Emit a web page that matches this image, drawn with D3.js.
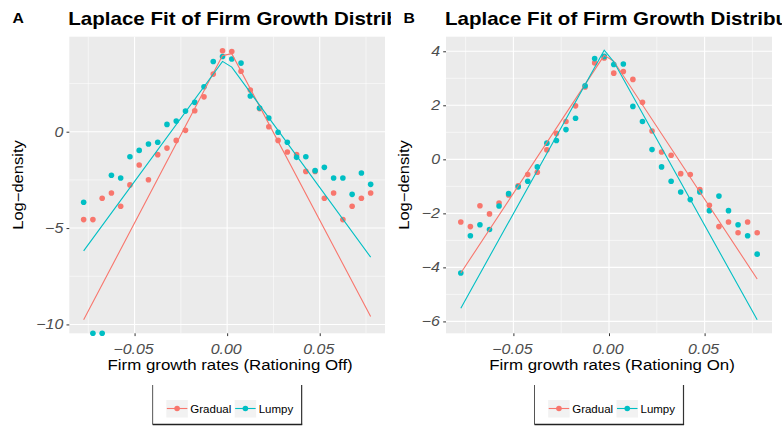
<!DOCTYPE html>
<html><head><meta charset="utf-8">
<script src="https://cdn.jsdelivr.net/npm/d3@7"></script>
<style>html,body{margin:0;padding:0;background:#fff;}svg{display:block;}</style>
</head><body>
<svg id="chart" width="782" height="428"></svg>
<script>
// ---------- data ----------
const binCenters = [-0.0775,-0.0725,-0.0675,-0.0625,-0.0575,-0.0525,-0.0475,-0.0425,-0.0375,-0.0325,-0.0275,-0.0225,-0.0175,-0.0125,-0.0075,-0.0025,0.0025,0.0075,0.0125,0.0175,0.0225,0.0275,0.0325,0.0375,0.0425,0.0475,0.0525,0.0575,0.0625,0.0675,0.0725,0.0775];
const seriesNames = ["Gradual", "Lumpy"];
const gradualOff = [-4.56,-4.56,-3.45,-3.18,-3.87,-2.76,-1.73,-2.49,-1.19,-0.85,-0.45,0.07,1.09,1.81,2.99,4.20,4.16,3.14,2.16,1.20,0.26,-0.45,-1.05,-1.19,-2.06,-2.06,-3.45,-3.18,-4.56,-3.87,-3.45,-3.18];
const lumpyOff = [-3.66,-Infinity,-Infinity,-2.26,-2.40,-1.30,-0.97,-0.64,-0.55,0.38,0.55,1.07,1.52,2.33,3.64,3.90,3.77,3.56,1.85,1.23,0.71,-0.03,-0.55,-1.33,-1.30,-2.02,-1.85,-2.40,-2.40,-3.25,-2.14,-2.73];
const gradualOn = [-2.32,-2.49,-1.72,-2.02,-1.62,-1.32,-0.98,-0.56,-0.48,0.35,0.96,1.40,1.98,2.68,3.57,3.75,3.19,3.25,2.96,2.11,1.05,0.27,0.15,-0.53,-0.56,-1.12,-1.70,-2.49,-2.32,-2.72,-2.32,-2.72];
const lumpyOn = [-4.21,-2.83,-2.42,-2.60,-1.73,-1.27,-1.02,-0.81,-0.28,0.60,0.70,1.10,1.52,2.72,3.73,3.81,3.51,3.53,1.96,1.40,0.36,-0.28,-0.81,-1.21,-1.49,-1.21,-1.90,-1.36,-1.90,-2.42,-2.83,-3.51];
// Laplace fit lines (read at a few bin centres)
const fitX = [-0.0775, -0.0025, 0.0025, 0.0775];
const fitGradualOff = [-9.76, 3.95, 4.05, -9.59];
const fitLumpyOff = [-6.18, 3.65, 3.35, -6.51];
const fitGradualOn = [-4.21, 3.85, 3.63, -4.43];
const fitLumpyOn = [-5.51, 4.04, 3.61, -5.94];
const xTicks = [-0.05, 0, 0.05];
const xTickLabels = ["\u22120.05", "0.00", "0.05"];
const yTicksOff = [-10, -5, 0];
const yTicksOn = [-6, -4, -2, 0, 2, 4];
const panelTags = ["A", "B"];
const titleText = "Laplace Fit of Firm Growth Distribution";
const xTitles = ["Firm growth rates (Rationing Off)", "Firm growth rates (Rationing On)"];
const yTitle = "Log\u2212density";

// ---------- style ----------
const colors = {Gradual: "#F8766D", Lumpy: "#00BFC4"};
const FONT = "'Liberation Sans', Arial, Helvetica, sans-serif";
const SX = 1.14; // horizontal glyph stretch
const xDomain = [-0.08525, 0.08525];

const panels = [
  {tag: panelTags[0], cell: [0, 391], left: 69.3, right: 385, yDomain: [-10.46, 4.93], yTicks: yTicksOff,
   series: {Gradual: gradualOff, Lumpy: lumpyOff}, fits: {Gradual: fitGradualOff, Lumpy: fitLumpyOff}, xTitle: xTitles[0]},
  {tag: panelTags[1], cell: [391, 782], left: 446, right: 772, yDomain: [-6.44, 4.54], yTicks: yTicksOn,
   series: {Gradual: gradualOn, Lumpy: lumpyOn}, fits: {Gradual: fitGradualOn, Lumpy: fitLumpyOn}, xTitle: xTitles[1]}
];
const panelTop = 36.7, panelBottom = 333.3;

const svg = d3.select("#chart");
svg.append("rect").attr("width", 782).attr("height", 428).attr("fill", "#fff");
const defs = svg.append("defs");

function stext(g, str, x, y, opts) {
  const o = Object.assign({size: 14, anchor: "start", weight: "normal", style: "normal", fill: "#000", rotate: 0, sx: SX}, opts || {});
  return g.append("text")
    .attr("transform", `translate(${x},${y})` + (o.rotate ? ` rotate(${o.rotate})` : "") + ` scale(${o.sx},1)`)
    .attr("text-anchor", o.anchor)
    .attr("font-family", FONT).attr("font-size", o.size)
    .attr("font-weight", o.weight).attr("font-style", o.style)
    .attr("fill", o.fill).text(str);
}

panels.forEach((p, i) => {
  const clipId = "cell" + i;
  defs.append("clipPath").attr("id", clipId).append("rect")
    .attr("x", p.cell[0]).attr("y", 0).attr("width", p.cell[1] - p.cell[0]).attr("height", 428);
  const g = svg.append("g").attr("clip-path", `url(#${clipId})`);

  const x = d3.scaleLinear().domain(xDomain).range([p.left, p.right]);
  const y = d3.scaleLinear().domain(p.yDomain).range([panelBottom, panelTop]);
  const yv = v => isFinite(v) ? y(v) : panelBottom;

  // panel background
  g.append("rect").attr("x", p.left).attr("y", panelTop).attr("width", p.right - p.left).attr("height", panelBottom - panelTop).attr("fill", "#EBEBEB");
  // minor grid
  const xMinor = [-0.075, -0.025, 0.025, 0.075];
  g.append("g").selectAll("line").data(xMinor).join("line")
    .attr("x1", d => x(d)).attr("x2", d => x(d)).attr("y1", panelTop).attr("y2", panelBottom)
    .attr("stroke", "#fff").attr("stroke-width", 0.55);
  const yMaj = p.yTicks;
  const step = yMaj[1] - yMaj[0];
  const yMinor = [];
  for (let v = yMaj[0] - step / 2; v <= p.yDomain[1]; v += step) if (v >= p.yDomain[0]) yMinor.push(v);
  g.append("g").selectAll("line").data(yMinor).join("line")
    .attr("x1", p.left).attr("x2", p.right).attr("y1", d => y(d)).attr("y2", d => y(d))
    .attr("stroke", "#fff").attr("stroke-width", 0.55);
  // major grid
  g.append("g").selectAll("line").data(xTicks).join("line")
    .attr("x1", d => x(d)).attr("x2", d => x(d)).attr("y1", panelTop).attr("y2", panelBottom)
    .attr("stroke", "#fff").attr("stroke-width", 1.1);
  g.append("g").selectAll("line").data(yMaj).join("line")
    .attr("x1", p.left).attr("x2", p.right).attr("y1", d => y(d)).attr("y2", d => y(d))
    .attr("stroke", "#fff").attr("stroke-width", 1.1);

  // axes (D3 axes, styled like ggplot)
  const xAxis = g.append("g").attr("transform", `translate(0,${panelBottom})`)
    .call(d3.axisBottom(x).tickValues(xTicks).tickSize(2.8).tickPadding(0).tickFormat(""));
  xAxis.select(".domain").remove();
  xAxis.selectAll(".tick line").attr("stroke", "#333").attr("stroke-width", 1);
  const yAxis = g.append("g").attr("transform", `translate(${p.left},0)`)
    .call(d3.axisLeft(y).tickValues(yMaj).tickSize(2.8).tickFormat(""));
  yAxis.select(".domain").remove();
  yAxis.selectAll(".tick line").attr("stroke", "#333").attr("stroke-width", 1);

  xTicks.forEach((t, j) => stext(g, xTickLabels[j], x(t) - 1, 354, {anchor: "middle", style: "italic", fill: "#4D4D4D", size: 14}));
  yMaj.forEach(t => stext(g, t < 0 ? "\u2212" + Math.abs(t) : String(t), p.left - 6, y(t) + 5, {anchor: "end", style: "italic", fill: "#4D4D4D", size: 14}));

  // points
  seriesNames.forEach(s => {
    g.append("g").selectAll("circle").data(binCenters).join("circle")
      .attr("cx", d => x(d)).attr("cy", (d, k) => yv(p.series[s][k])).attr("r", 2.8)
      .attr("fill", colors[s]);
  });
  // fitted Laplace lines
  seriesNames.forEach(s => {
    const line = d3.line().x(d => x(d[0])).y(d => y(d[1]));
    g.append("path").datum(fitX.map((xx, k) => [xx, p.fits[s][k]]))
      .attr("d", line).attr("fill", "none").attr("stroke", colors[s]).attr("stroke-width", 1.1);
  });

  // titles
  const cx = (p.left + p.right) / 2;
  stext(g, p.xTitle, cx + 3, 370, {anchor: "middle", size: 14.8});
  const yTitleX = i === 0 ? 22.5 : 409;
  stext(g, yTitle, yTitleX, (panelTop + panelBottom) / 2, {anchor: "middle", size: 14.5, rotate: -90});
  stext(g, titleText, p.left - 1, 25, {weight: "bold", size: 18});
  stext(g, p.tag, p.cell[0] + 12.5, 23, {weight: "bold", size: 15, sx: 1.05});

  // legend
  const lg = g.append("g").attr("transform", `translate(${cx - 74.5},0)`);
  lg.append("line").attr("x1", 0).attr("x2", 0).attr("y1", 385).attr("y2", 424.5).attr("stroke", "#555").attr("stroke-width", 1);
  lg.append("line").attr("x1", 149).attr("x2", 149).attr("y1", 385).attr("y2", 424.5).attr("stroke", "#333").attr("stroke-width", 1.2);
  lg.append("line").attr("x1", 0).attr("x2", 149.6).attr("y1", 424.5).attr("y2", 424.5).attr("stroke", "#222").attr("stroke-width", 1.4);
  const keyX = [13.7, 82];
  seriesNames.forEach((s, k) => {
    const kx = keyX[k];
    lg.append("rect").attr("x", kx).attr("y", 400).attr("width", 21.5).attr("height", 17.5).attr("fill", "#F2F2F2");
    lg.append("line").attr("x1", kx + 0.5).attr("x2", kx + 21).attr("y1", 408.5).attr("y2", 408.5).attr("stroke", colors[s]).attr("stroke-width", 1.1);
    lg.append("circle").attr("cx", kx + 10.75).attr("cy", 408.5).attr("r", 2.8).attr("fill", colors[s]);
    stext(lg, s, kx + 24, 413, {size: 11.5, sx: 1});
  });
});
</script>
</body></html>
